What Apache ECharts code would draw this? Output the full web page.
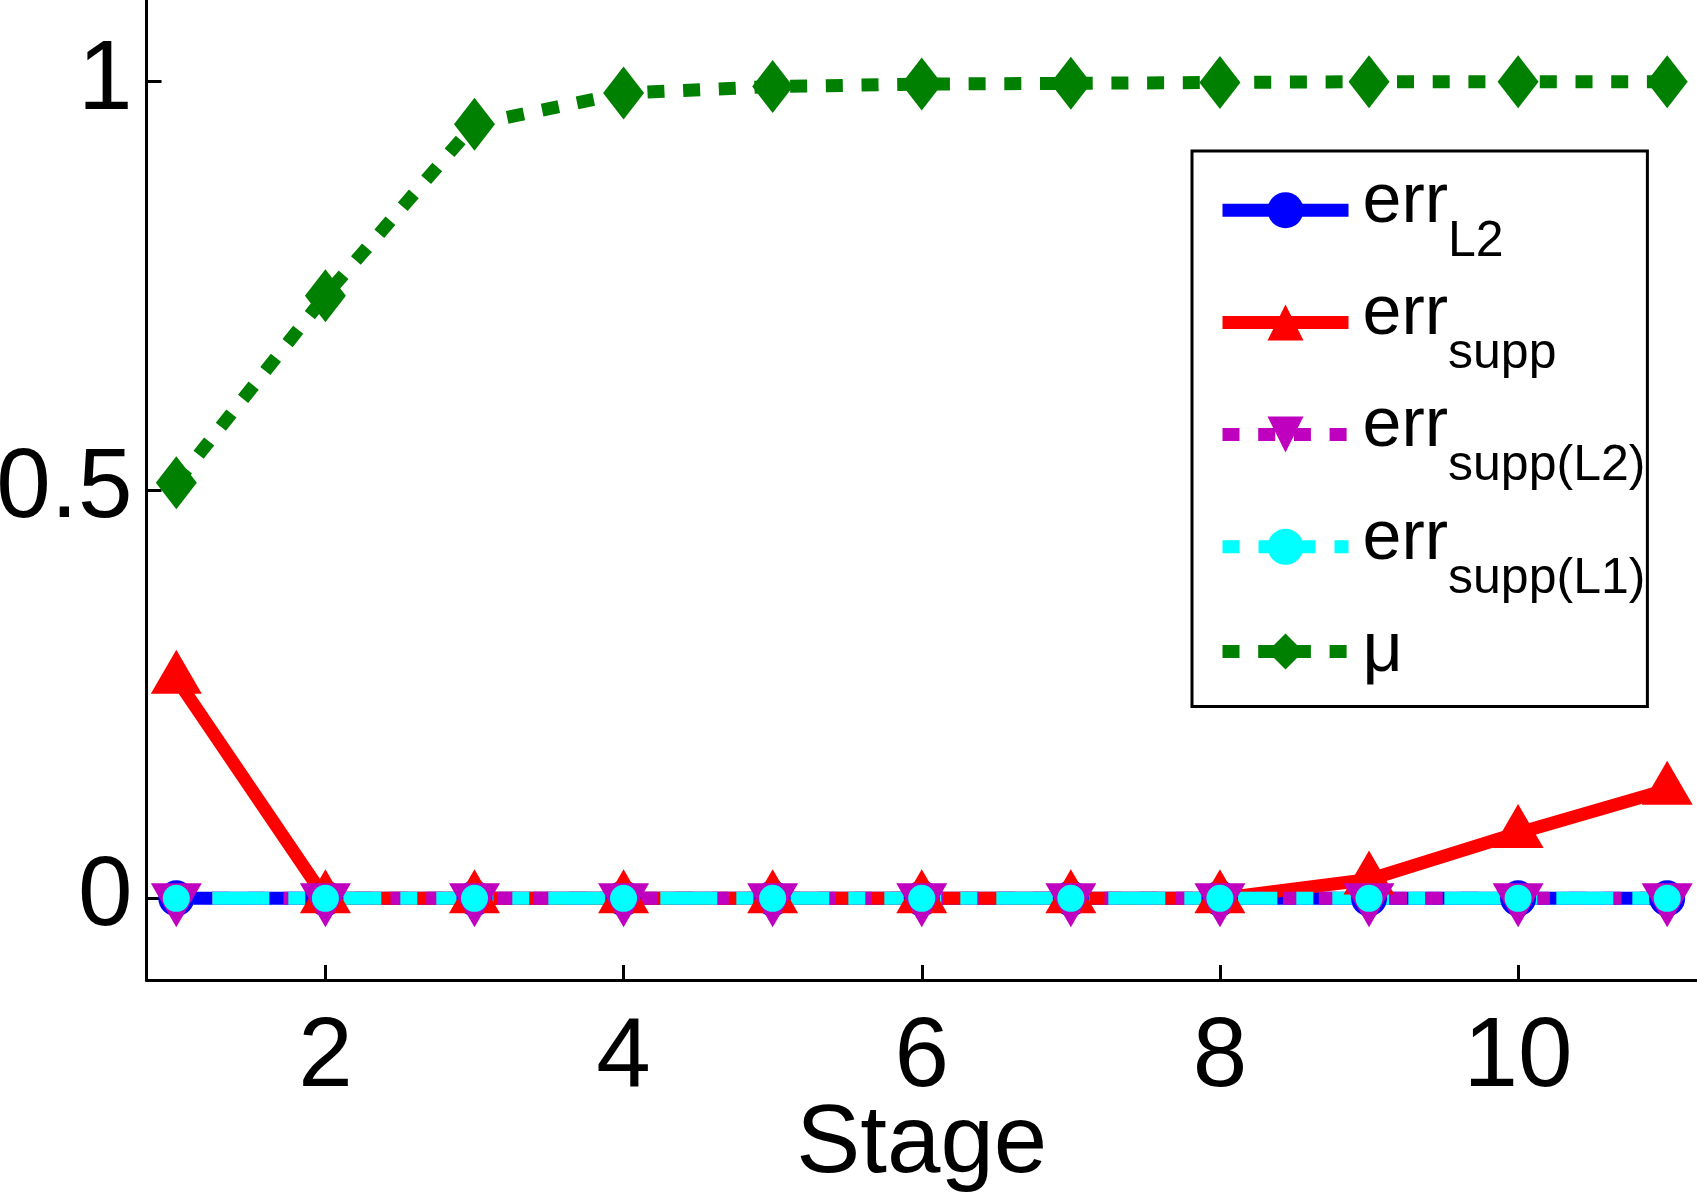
<!DOCTYPE html>
<html>
<head>
<meta charset="utf-8">
<script src="https://cdn.jsdelivr.net/npm/echarts@6/dist/echarts.min.js"></script>
<style>
  html, body { margin: 0; padding: 0; background: #fff; }
  #chart { width: 1697px; height: 1200px; }
</style>
</head>
<body>
<div id="chart"></div>
<script>
// stage numbers on the x axis
var stages = [1, 2, 3, 4, 5, 6, 7, 8, 9, 10, 11];
// series values
var errL2      = [0, 0, 0, 0, 0, 0, 0, 0, 0, 0, 0];
var errSupp    = [0.269, 0, 0, 0, 0, 0, 0, 0, 0.023, 0.08, 0.133];
var errSuppL2  = [0, 0, 0, 0, 0, 0, 0, 0, 0, 0, 0];
var errSuppL1  = [0, 0, 0, 0, 0, 0, 0, 0, 0, 0, 0];
var mu         = [0.509, 0.738, 0.948, 0.986, 0.994, 0.997, 0.998, 0.999, 1, 1, 1];
// tick labels
var xTicks = [2, 4, 6, 8, 10];
var yTicks = [0, 0.5, 1];
// legend text: main part and subscript
var seriesNames = ['errL2', 'errsupp', 'errsupp(L2)', 'errsupp(L1)', 'mu'];
var legendMain  = ['err', 'err', 'err', 'err', 'μ'];
var legendSub   = ['L2', 'supp', 'supp(L2)', 'supp(L1)', ''];

var FONT = 'Liberation Sans';
var LW = 13;

function pairs(ys) {
  return stages.map(function (x, i) { return [x, ys[i]]; });
}

var chart = echarts.init(document.getElementById('chart'));

var option = {
  animation: false,
  backgroundColor: '#fff',
  grid: {
    left: 146.5, right: 0, top: 0, bottom: 220,
    outerBoundsMode: 'none'
  },
  xAxis: {
    type: 'value',
    min: 0.8, max: 11.2,
    splitLine: { show: false },
    axisLine: { show: true, onZero: false, lineStyle: { color: '#000', width: 3 } },
    axisTick: { show: true, inside: true, length: 15, lineStyle: { color: '#000', width: 3 }, customValues: xTicks },
    axisLabel: { customValues: xTicks, color: '#000', fontFamily: FONT, fontSize: 98, margin: 30 },
    name: 'Stage',
    nameLocation: 'middle',
    nameGap: 118,
    nameMoveOverlap: false,
    nameTextStyle: { color: '#000', fontFamily: FONT, fontSize: 96 }
  },
  yAxis: {
    type: 'value',
    min: -0.1, max: 1.1,
    splitLine: { show: false },
    axisLine: { show: true, onZero: false, lineStyle: { color: '#000', width: 3 } },
    axisTick: { show: true, inside: true, length: 15, lineStyle: { color: '#000', width: 3 }, customValues: yTicks },
    axisLabel: { customValues: yTicks, color: '#000', fontFamily: FONT, fontSize: 98, margin: 14 }
  },
  legend: {
    orient: 'vertical',
    left: 1192, top: 151,
    padding: [16.7, 2, 20, 24],
    itemGap: 12.7,
    itemWidth: 126,
    itemHeight: 45,
    borderColor: '#000',
    borderWidth: 3,
    backgroundColor: '#fff',
    lineStyle: { width: LW },
    data: seriesNames,
    formatter: function (name) {
      var i = seriesNames.indexOf(name);
      if (!legendSub[i]) return '{u|' + legendMain[i] + '}';
      return '{m|' + legendMain[i] + '}{s|' + legendSub[i] + '}';
    },
    textStyle: {
      color: '#000',
      fontFamily: FONT,
      rich: {
        m: { fontSize: 70, fontFamily: FONT, color: '#000', padding: [0, 0, 15, 9] },
        s: { fontSize: 50, fontFamily: FONT, color: '#000', padding: [64, 0, 0, 0] },
        u: { fontSize: 70, fontFamily: FONT, color: '#000', padding: [13, 0, 13, 9] }
      }
    }
  },
  series: [
    {
      name: seriesNames[0], type: 'line', data: pairs(errL2),
      symbol: 'circle', symbolSize: 36,
      lineStyle: { color: '#0000ff', width: LW, type: 'solid', cap: 'butt' },
      itemStyle: { color: '#0000ff' }
    },
    {
      name: seriesNames[1], type: 'line', data: pairs(errSupp),
      symbol: 'triangle', symbolSize: [51, 44], symbolOffset: [0, -7],
      lineStyle: { color: '#ff0000', width: LW, type: 'solid', cap: 'butt' },
      itemStyle: { color: '#ff0000' }
    },
    {
      name: seriesNames[2], type: 'line', data: pairs(errSuppL2),
      symbol: 'triangle', symbolSize: [51, 44], symbolRotate: 180, symbolOffset: [0, 7],
      lineStyle: { color: '#bf00bf', width: LW, type: [17, 18.7], cap: 'butt' },
      itemStyle: { color: '#bf00bf' }
    },
    {
      name: seriesNames[3], type: 'line', data: pairs(errSuppL1),
      symbol: 'circle', symbolSize: 27,
      lineStyle: { color: '#00ffff', width: LW, type: [17, 19, 57, 19], cap: 'butt' },
      itemStyle: { color: '#00ffff' }
    },
    {
      name: seriesNames[4], type: 'line', data: pairs(mu),
      symbol: 'diamond', symbolSize: [41, 53],
      lineStyle: { color: '#008000', width: LW, type: [17, 18.7], cap: 'butt' },
      itemStyle: { color: '#008000' }
    }
  ]
};

chart.setOption(option);
</script>
</body>
</html>
